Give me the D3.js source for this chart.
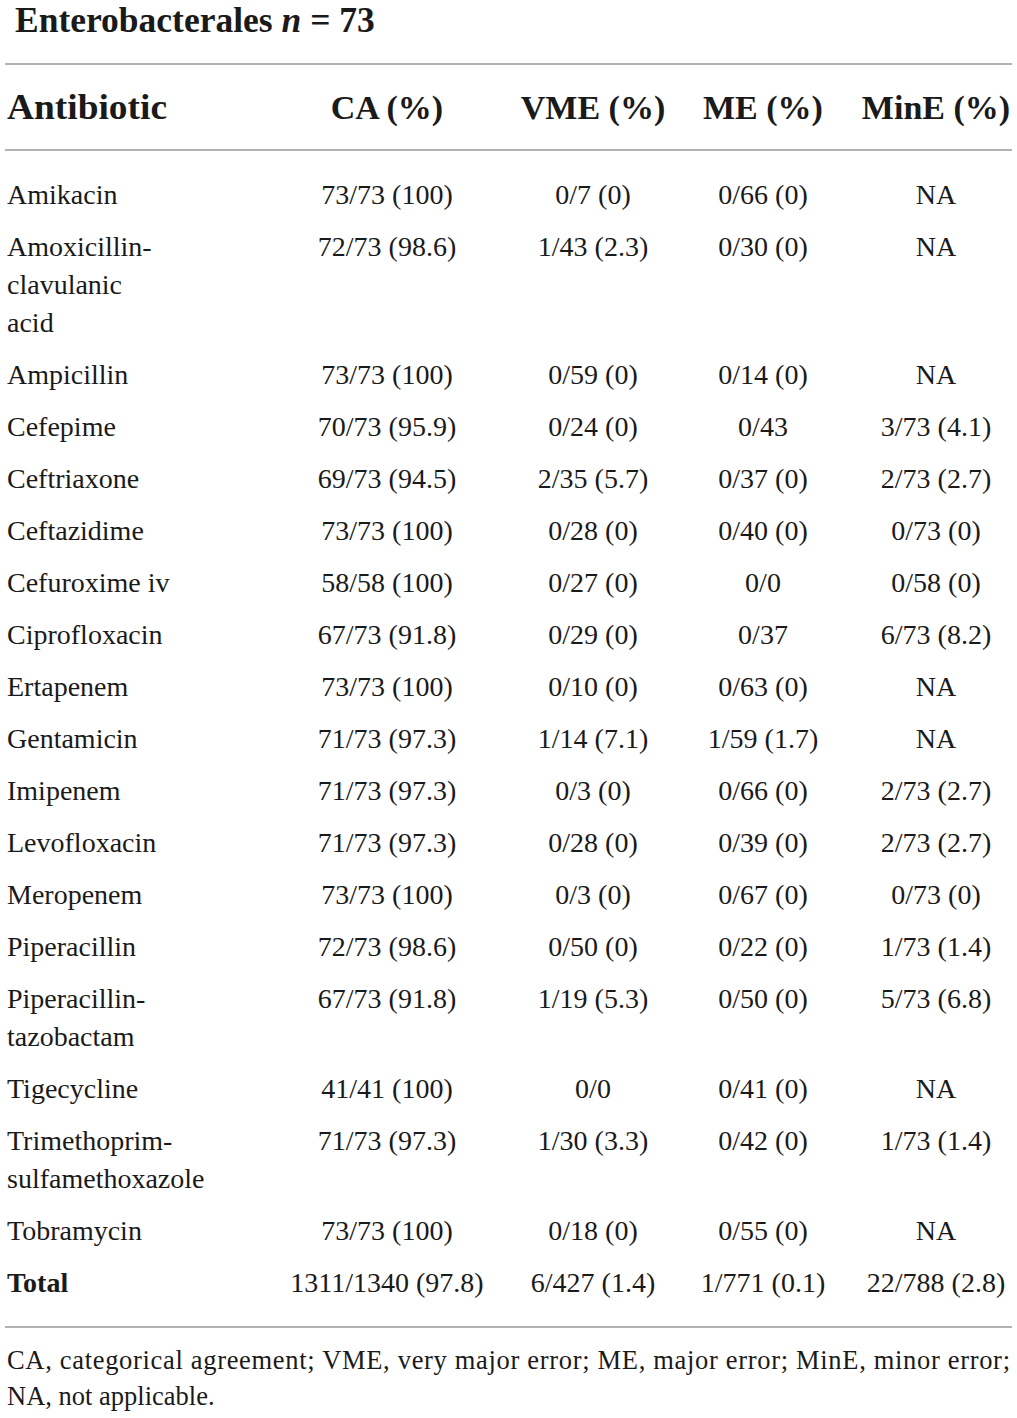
<!DOCTYPE html>
<html>
<head>
<meta charset="utf-8">
<script src="https://cdn.jsdelivr.net/npm/d3@7"></script>
<style>
  html, body { margin: 0; padding: 0; background: #fff; }
  svg { display: block; }
  text { font-family: "Liberation Serif", "Times New Roman", serif; fill: #1a1a1a; }
</style>
</head>
<body>
<svg id="chart" width="1017" height="1418"></svg>
<script>
// ---- data ----
const titleText = "Enterobacterales";
const titleN = "73";
const headers = ["Antibiotic", "CA (%)", "VME (%)", "ME (%)", "MinE (%)"];
const antibiotics = [
  ["Amikacin"],
  ["Amoxicillin-", "clavulanic", "acid"],
  ["Ampicillin"],
  ["Cefepime"],
  ["Ceftriaxone"],
  ["Ceftazidime"],
  ["Cefuroxime iv"],
  ["Ciprofloxacin"],
  ["Ertapenem"],
  ["Gentamicin"],
  ["Imipenem"],
  ["Levofloxacin"],
  ["Meropenem"],
  ["Piperacillin"],
  ["Piperacillin-", "tazobactam"],
  ["Tigecycline"],
  ["Trimethoprim-", "sulfamethoxazole"],
  ["Tobramycin"]
];
const caValues = ["73/73 (100)", "72/73 (98.6)", "73/73 (100)", "70/73 (95.9)", "69/73 (94.5)", "73/73 (100)", "58/58 (100)", "67/73 (91.8)", "73/73 (100)", "71/73 (97.3)", "71/73 (97.3)", "71/73 (97.3)", "73/73 (100)", "72/73 (98.6)", "67/73 (91.8)", "41/41 (100)", "71/73 (97.3)", "73/73 (100)"];
const vmeValues = ["0/7 (0)", "1/43 (2.3)", "0/59 (0)", "0/24 (0)", "2/35 (5.7)", "0/28 (0)", "0/27 (0)", "0/29 (0)", "0/10 (0)", "1/14 (7.1)", "0/3 (0)", "0/28 (0)", "0/3 (0)", "0/50 (0)", "1/19 (5.3)", "0/0", "1/30 (3.3)", "0/18 (0)"];
const meValues = ["0/66 (0)", "0/30 (0)", "0/14 (0)", "0/43", "0/37 (0)", "0/40 (0)", "0/0", "0/37", "0/63 (0)", "1/59 (1.7)", "0/66 (0)", "0/39 (0)", "0/67 (0)", "0/22 (0)", "0/50 (0)", "0/41 (0)", "0/42 (0)", "0/55 (0)"];
const mineValues = ["NA", "NA", "NA", "3/73 (4.1)", "2/73 (2.7)", "0/73 (0)", "0/58 (0)", "6/73 (8.2)", "NA", "NA", "2/73 (2.7)", "2/73 (2.7)", "0/73 (0)", "1/73 (1.4)", "5/73 (6.8)", "NA", "1/73 (1.4)", "NA"];
const totalRow = ["Total", "1311/1340 (97.8)", "6/427 (1.4)", "1/771 (0.1)", "22/788 (2.8)"];
const footnoteLines = [
  "CA, categorical agreement; VME, very major error; ME, major error; MinE, minor error;",
  "NA, not applicable."
];

// ---- layout ----
const svg = d3.select("#chart");
const colKeys = ["CA", "VME", "ME", "MinE"];
const colX = d3.scaleOrdinal().domain(colKeys).range([387, 593, 763, 936]);
const leftX = 7;
const bodySize = 28;
const lineGap = 38;   // spacing between wrapped lines
const rowGap = 52;    // spacing between rows (single-line)
const firstBaseline = 204;

const rowStartLine = [];
let acc = 0;
antibiotics.forEach((a) => { rowStartLine.push(acc); acc += a.length; });
const yOf = (rowIdx, lineIdx) => firstBaseline + rowIdx * (rowGap - lineGap) + lineIdx * lineGap;

// title
const title = svg.append("text")
  .attr("x", 15).attr("y", 32)
  .attr("font-size", 35.5).attr("font-weight", "bold");
title.append("tspan").text(titleText + " ");
title.append("tspan").attr("font-style", "italic").text("n");
title.append("tspan").text(" = " + titleN);

// rules
const ruleColor = "#9a9a9a";
[64, 150, 1327].forEach(y => {
  svg.append("line").attr("x1", 5).attr("x2", 1012).attr("y1", y).attr("y2", y)
    .attr("stroke", ruleColor).attr("stroke-width", 1.5);
});

// header
svg.append("text").attr("x", leftX).attr("y", 119)
  .attr("font-size", 35).attr("font-weight", "bold")
  .attr("textLength", 160).attr("lengthAdjust", "spacingAndGlyphs")
  .text(headers[0]);
colKeys.forEach((k, i) => {
  svg.append("text").attr("x", colX(k)).attr("y", 119)
    .attr("text-anchor", "middle")
    .attr("font-size", 34).attr("font-weight", "bold").text(headers[i + 1]);
});

// body
const cols = { CA: caValues, VME: vmeValues, ME: meValues, MinE: mineValues };
const body = svg.append("g");
antibiotics.forEach((lines, r) => {
  const start = rowStartLine[r];
  lines.forEach((ln, j) => {
    body.append("text").attr("x", leftX).attr("y", yOf(r, start + j))
      .attr("font-size", bodySize).text(ln);
  });
  colKeys.forEach(k => {
    body.append("text").attr("x", colX(k)).attr("y", yOf(r, start))
      .attr("text-anchor", "middle").attr("font-size", bodySize).text(cols[k][r]);
  });
});

// total
const totalY = yOf(antibiotics.length, acc);
svg.append("text").attr("x", leftX).attr("y", totalY)
  .attr("font-size", bodySize).attr("font-weight", "bold").text(totalRow[0]);
colKeys.forEach((k, i) => {
  svg.append("text").attr("x", colX(k)).attr("y", totalY)
    .attr("text-anchor", "middle").attr("font-size", bodySize).text(totalRow[i + 1]);
});

// footnote
svg.append("text").attr("x", leftX).attr("y", 1369)
  .attr("font-size", 26.5)
  .attr("textLength", 1003).attr("lengthAdjust", "spacing")
  .text(footnoteLines[0]);
svg.append("text").attr("x", leftX).attr("y", 1405)
  .attr("font-size", 26.5).text(footnoteLines[1]);
</script>
</body>
</html>
